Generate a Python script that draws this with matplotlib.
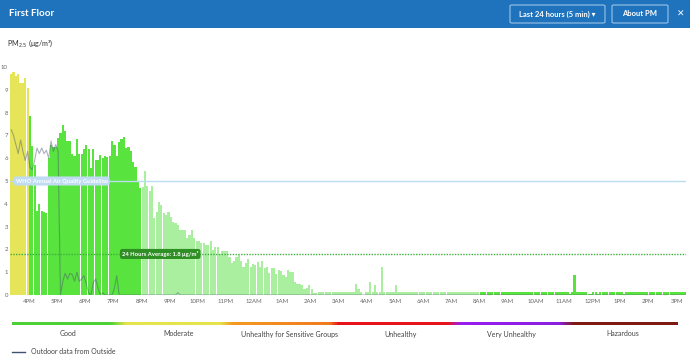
import numpy as np
import matplotlib.pyplot as plt
from matplotlib.colors import LinearSegmentedColormap
from matplotlib.patches import Rectangle, FancyBboxPatch
from matplotlib.lines import Line2D

plt.rcParams['font.family'] = ['Lato', 'DejaVu Sans']

# 5-minute readings, 3:20PM -> 3:15PM next day (one row per hour)
indoor_pm = [
    9.7, 9.8, 9.6, 9.7, 9.3, 9.3, 9.5, 9.1,  # 3:20PM - 3:55PM
    7.85, 6.55, 5.7, 3.7, 4.0, 3.7, 3.65, 3.6, 6.0, 6.6, 6.5, 6.5,  # 4PM
    6.9, 7.1, 7.45, 7.2, 6.75, 6.75, 6.2, 6.1, 6.85, 6.2, 6.2, 6.4,  # 5PM
    6.6, 6.4, 5.55, 6.4, 5.9, 5.9, 6.15, 6.0, 6.1, 6.05, 6.1, 6.75,  # 6PM
    6.6, 6.1, 6.7, 6.85, 6.95, 6.45, 6.5, 6.3, 5.85, 5.6, 5.0, 4.7,  # 7PM
    4.75, 5.45, 4.8, 4.55, 4.78, 3.37, 3.65, 4.1, 3.95, 3.6, 3.5, 3.64,  # 8PM
    3.44, 3.2, 3.14, 3.07, 2.85, 2.85, 2.85, 2.48, 2.63, 2.85, 2.52, 2.38,  # 9PM
    2.38, 2.3, 2.3, 2.19, 2.19, 2.38, 1.97, 2.1, 2.1, 1.8, 1.95, 1.95,  # 10PM
    1.95, 1.68, 1.4, 1.5, 1.65, 1.75, 1.5, 1.24, 1.4, 1.6, 1.24, 1.37,  # 11PM
    1.3, 1.44, 1.24, 1.5, 1.2, 1.24, 0.95, 1.2, 1.2, 0.92, 1.1, 1.05,  # 12AM
    0.87, 0.77, 1.1, 1.0, 1.0, 0.55, 0.48, 0.48, 0.45, 0.28, 0.3, 0.45,  # 1AM
    0.25, 0.1, 0.08, 0.15, 0.15, 0.15, 0.15, 0.15, 0.15, 0.15, 0.15, 0.15,  # 2AM
    0.15, 0.15, 0.15, 0.15, 0.15, 0.15, 0.15, 0.47, 0.25, 0.15, 0.02, 0.15,  # 3AM
    0.15, 0.56, 0.15, 0.44, 0.15, 0.15, 1.24, 0.15, 0.15, 0.15, 0.15, 0.15,  # 4AM
    0.44, 0.15, 0.15, 0.15, 0.15, 0.15, 0.15, 0.15, 0.15, 0.15, 0.15, 0.15,  # 5AM
    0.15, 0.15, 0.15, 0.15, 0.15, 0.15, 0.15, 0.15, 0.15, 0.15, 0.15, 0.15,  # 6AM
    0.15, 0.15, 0.15, 0.15, 0.15, 0.15, 0.15, 0.15, 0.15, 0.15, 0.15, 0.15,  # 7AM
    0.15, 0.15, 0.15, 0.15, 0.15, 0.15, 0.15, 0.15, 0.15, 0.15, 0.15, 0.15,  # 8AM
    0.15, 0.15, 0.15, 0.15, 0.15, 0.15, 0.15, 0.15, 0.15, 0.15, 0.15, 0.15,  # 9AM
    0.15, 0.15, 0.15, 0.15, 0.15, 0.15, 0.15, 0.15, 0.15, 0.15, 0.15, 0.15,  # 10AM
    0.15, 0.15, 0.05, 0.15, 0.86, 0.15, 0.15, 0.15, 0.15, 0.15, 0.05, 0.05,  # 11AM
    0.15, 0.15, 0.05, 0.15, 0.15, 0.15, 0.15, 0.15, 0.15, 0.15, 0.15, 0.15,  # 12PM
    0.15, 0.05, 0.15, 0.15, 0.15, 0.15, 0.15, 0.15, 0.15, 0.15, 0.15, 0.15,  # 1PM
    0.15, 0.15, 0.15, 0.15, 0.15, 0.15, 0.15, 0.15, 0.15, 0.15, 0.15, 0.15,  # 2PM
    0.15, 0.15, 0.15, 0.15,  # 3PM
]

outdoor_pm = [
    7.25, 7.0, 6.6, 6.2, 6.8, 6.3, 5.9, 6.3,
    5.6, 5.5, 5.9, 6.45, 6.2, 6.45, 6.2, 6.35, 6.0, 6.75, 6.3, 6.6,  # 4PM
    6.3, 0.0, 0.6, 0.95, 0.7, 0.95, 0.9, 0.6, 1.0, 0.6, 0.7, 0.85,  # 5PM
    0.5, 0.1, 0.0, 0.55, 0.7, 0.3, 0.0, 0.1, 0.0, 0.0, 0.0, 0.0,  # 6PM
    0.3, 0.85, 0.0, 0.0, 0.0, 0.0, 0.0, 0.0, 0.0, 0.0, 0.0, 0.0,  # 7PM
    0.0, 0.0, 0.0, 0.0, 0.0, 0.0, 0.0, 0.0, 0.0, 0.0, 0.0, 0.0,  # 8PM
    0.0, 0.0, 0.0, 0.1, 0.0, 0.0, 0.0, 0.0, 0.0, 0.0, 0.0, 0.0,  # 9PM
    0.0, 0.0, 0.0, 0.0, 0.0, 0.0, 0.0, 0.0, 0.0, 0.0, 0.0, 0.0,  # 10PM
    0.0, 0.0, 0.0, 0.0, 0.0, 0.0, 0.0, 0.0, 0.0, 0.0, 0.0, 0.0,  # 11PM
    0.0, 0.0, 0.0, 0.0, 0.0, 0.0, 0.0, 0.0, 0.0, 0.0, 0.0, 0.0,  # 12AM
    0.0, 0.0, 0.0, 0.0, 0.0, 0.0, 0.0, 0.0, 0.0, 0.0, 0.0, 0.0,  # 1AM
    0.0, 0.0, 0.0, 0.0, 0.0, 0.0, 0.0, 0.0, 0.0, 0.0, 0.0, 0.0,  # 2AM
    0.0, 0.0, 0.0, 0.0, 0.0, 0.0, 0.0, 0.0, 0.0, 0.0, 0.0, 0.0,  # 3AM
    0.0, 0.0, 0.0, 0.0, 0.0, 0.0, 0.0, 0.0, 0.0, 0.0, 0.0, 0.0,  # 4AM
    0.0, 0.0, 0.0, 0.0, 0.0, 0.0, 0.0, 0.0, 0.0, 0.0, 0.0, 0.0,  # 5AM
    0.0, 0.0, 0.0, 0.0, 0.0, 0.0, 0.0, 0.0, 0.0, 0.0, 0.0, 0.0,  # 6AM
    0.0, 0.0, 0.0, 0.0, 0.0, 0.0, 0.0, 0.0, 0.0, 0.0, 0.0, 0.0,  # 7AM
    0.0, 0.0, 0.0, 0.0, 0.0, 0.0, 0.0, 0.0, 0.0, 0.0, 0.0, 0.0,  # 8AM
    0.0, 0.0, 0.0, 0.0, 0.0, 0.0, 0.0, 0.0, 0.0, 0.0, 0.0, 0.0,  # 9AM
    0.0, 0.0, 0.0, 0.0, 0.0, 0.0, 0.0, 0.0, 0.0, 0.0, 0.0, 0.0,  # 10AM
    0.0, 0.0, 0.0, 0.0, 0.0, 0.0, 0.0, 0.0, 0.0, 0.0, 0.0, 0.0,  # 11AM
    0.0, 0.0, 0.0, 0.0, 0.0, 0.0, 0.0, 0.0, 0.0, 0.0, 0.0, 0.0,  # 12PM
    0.0, 0.0, 0.0, 0.0, 0.0, 0.0, 0.0, 0.0, 0.0, 0.0, 0.0, 0.0,  # 1PM
    0.0, 0.0, 0.0, 0.0, 0.0, 0.0, 0.0, 0.0, 0.0, 0.0, 0.0, 0.0,  # 2PM
    0.0, 0.0, 0.0, 0.0,  # 3PM
]

hour_labels = ['4PM', '5PM', '6PM', '7PM', '8PM', '9PM', '10PM', '11PM',
               '12AM', '1AM', '2AM', '3AM', '4AM', '5AM', '6AM', '7AM',
               '8AM', '9AM', '10AM', '11AM', '12PM', '1PM', '2PM', '3PM']
who_guideline = 5.0
day_average = 1.8
aqi_labels = ['Good', 'Moderate', 'Unhealthy for Sensitive Groups',
              'Unhealthy', 'Very Unhealthy', 'Hazardous']

W, H = 690, 362


def fx(px):
    return px / W


def fy(py):
    return 1 - py / H


fig = plt.figure(figsize=(W / 100, H / 100), dpi=100)

# header bar
fig.add_artist(Rectangle((0, fy(28)), 1, 28 / H, transform=fig.transFigure,
                         facecolor='#1f72bc', edgecolor='none', zorder=0))
fig.text(fx(9), fy(14), 'First Floor', color='white', fontsize=7,
         fontweight='bold', va='center')
for x0, x1, label in [(510, 605, 'Last 24 hours (5 min) \u25BE'), (612, 668, 'About PM')]:
    fig.add_artist(FancyBboxPatch((fx(x0), fy(23)), fx(x1 - x0), 18 / H,
                                  boxstyle='round,pad=0,rounding_size=0.003',
                                  transform=fig.transFigure, facecolor='none',
                                  edgecolor='#9cc3e6', lw=0.8))
    fig.text(fx((x0 + x1) / 2), fy(14), label, color='white', fontsize=5.5,
             fontweight='bold', ha='center', va='center')
fig.text(fx(681), fy(14), '\u2715', color='white', fontsize=6.5, ha='center', va='center')

fig.text(fx(7), fy(43), 'PM$_{2.5}$ (\u03bcg/m\u00b3)', fontsize=5.2, color='#333333', va='center')

# main chart
ax = fig.add_axes([fx(10), fy(295), fx(676), (295 - 67) / H])
n = len(indoor_pm)
x = np.arange(n)
colors = []
for i, v in enumerate(indoor_pm):
    if v >= 9:
        colors.append('#e6e55a')
    elif 56 <= i < 200:
        colors.append('#aaefa0')
    else:
        colors.append('#58e33e')
ax.bar(x + 0.5, indoor_pm, width=0.92, color=colors, linewidth=0, zorder=2)
ax.plot(x + 0.5, outdoor_pm, color='#4a5570', alpha=0.45, lw=0.8, zorder=3)

ax.axhline(who_guideline, color='#bcdcf0', lw=1, zorder=4)
ax.axhline(day_average, color='#3fae3f', lw=1, ls=(0, (1, 1)), zorder=4)
ax.text(22, who_guideline, 'WHO Annual Air Quality Guideline', fontsize=4.2,
        color='white', fontweight='bold', ha='center', va='center', zorder=5,
        bbox=dict(boxstyle='round,pad=0.35,rounding_size=0.4', fc='#bfdcf2', ec='none'))
ax.text(64, day_average, '24 Hours Average: 1.8 \u03bcg/m\u00b3', fontsize=4.2,
        color='white', fontweight='bold', ha='center', va='center', zorder=5,
        bbox=dict(boxstyle='round,pad=0.35,rounding_size=0.4', fc='#2f8f25', ec='none'))

ax.set_xlim(0, n)
ax.set_ylim(0, 10)
ax.set_xticks([8 + 12 * k for k in range(len(hour_labels))])
ax.set_xticklabels(hour_labels)
ax.set_yticks(range(11))
ax.tick_params(length=0, labelsize=4.3, labelcolor='#666666')
ax.tick_params(axis='x', pad=3)
ax.tick_params(axis='y', pad=1.5)
for s in ax.spines.values():
    s.set_visible(False)

# AQI colour scale
cmap = LinearSegmentedColormap.from_list('aqi', [
    (0.0, '#4cd137'), (0.147, '#4cd137'), (0.17, '#e5e44a'), (0.312, '#e5e44a'),
    (0.33, '#f59a23'), (0.477, '#f07a1e'), (0.49, '#e8141b'), (0.655, '#e8141b'),
    (0.673, '#9b1cf0'), (0.823, '#8a1fe0'), (0.845, '#7e1a12'), (1.0, '#7e1a12')])
axg = fig.add_axes([fx(12), fy(325), fx(666), 3.5 / H])
axg.imshow(np.linspace(0, 1, 512)[None, :], cmap=cmap, aspect='auto')
axg.axis('off')
for k, label in enumerate(aqi_labels):
    fig.text(fx(12 + 666 * (k + 0.5) / 6), fy(334), label, fontsize=5,
             color='#444444', ha='center', va='center')

fig.add_artist(Line2D([fx(12), fx(25)], [fy(352), fy(352)], color='#3e5273', lw=1))
fig.text(fx(31), fy(352), 'Outdoor data from Outside', fontsize=5, color='#444444', va='center')

plt.savefig('out.png', dpi=100)
